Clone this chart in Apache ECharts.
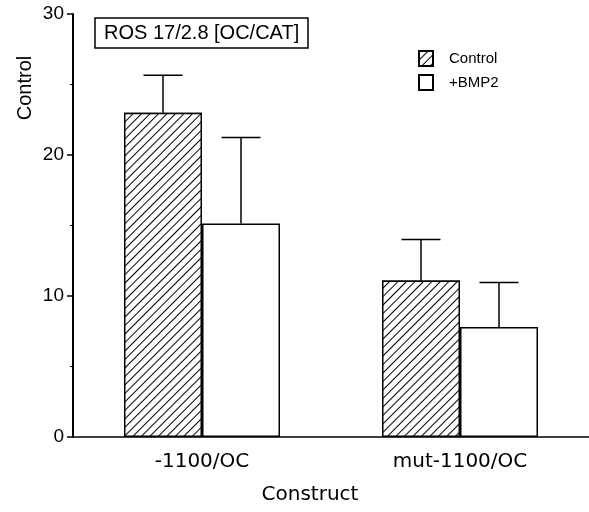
<!DOCTYPE html>
<html>
<head>
<meta charset="utf-8">
<script src="https://cdn.jsdelivr.net/npm/echarts@6/dist/echarts.min.js"></script>
<style>html,body{margin:0;padding:0;background:#fff;}#c{width:589px;height:512px;}</style>
</head>
<body>
<div id="c"></div>
<script>
var categories = ['-1100/OC', 'mut-1100/OC'];
var seriesNames = ['Control', '+BMP2'];
var controlMean = [23.0, 11.1];
var controlErr = [2.65, 2.9];
var bmp2Mean = [15.15, 7.8];
var bmp2Err = [6.1, 3.15];
var yTicks = [0, 10, 20, 30];
var titleText = 'ROS 17/2.8 [OC/CAT]';
var yName = 'Control';
var xName = 'Construct';

var BAR_W = 78;
var CAP_W = 39;
var FONT = '"Liberation Sans", Arial, sans-serif';

function errData(mean, err) {
  return mean.map(function (m, i) { return [i, m, m + err[i]]; });
}
function errSeries(mean, err, offset) {
  return {
    type: 'custom',
    xAxisIndex: 0,
    z: 3,
    data: errData(mean, err),
    renderItem: function (params, api) {
      var base = api.coord([api.value(0), api.value(1)]);
      var top = api.coord([api.value(0), api.value(2)]);
      var x = base[0] + offset;
      var st = { stroke: '#000', lineWidth: 1.5 };
      return {
        type: 'group',
        children: [
          { type: 'line', shape: { x1: x, y1: base[1], x2: x, y2: top[1] }, style: st },
          { type: 'line', shape: { x1: x - CAP_W / 2, y1: top[1], x2: x + CAP_W / 2, y2: top[1] }, style: st }
        ]
      };
    }
  };
}

var chart = echarts.init(document.getElementById('c'), null, { renderer: 'canvas' });
chart.setOption({
  animation: false,
  backgroundColor: '#fff',
  title: {
    text: titleText,
    left: 95, top: 18,
    padding: [5, 9, 5, 9],
    borderColor: '#000', borderWidth: 1.5,
    textStyle: { fontFamily: FONT, fontSize: 20, fontWeight: 'normal', color: '#000' }
  },
  legend: {
    data: seriesNames,
    orient: 'vertical',
    left: 413, top: 45,
    itemWidth: 14, itemHeight: 15, itemGap: 7,
    icon: 'rect',
    textStyle: { fontFamily: FONT, fontSize: 15, color: '#000', padding: [0, 0, 0, 11] }
  },
  graphic: [{
    type: 'text',
    x: 25, y: 88,
    rotation: Math.PI / 2,
    style: { text: yName, font: '20px ' + FONT, fill: '#000', align: 'center', verticalAlign: 'middle' }
  }],
  grid: { left: 73, right: 0, top: 14, bottom: 75, containLabel: false },
  xAxis: [{
    type: 'category',
    data: categories,
    axisLine: { lineStyle: { color: '#000', width: 1.5 } },
    axisTick: { alignWithLabel: true, length: 6, lineStyle: { color: '#000', width: 1.5 } },
    axisLabel: { color: '#000', fontFamily: '"DejaVu Sans", sans-serif', fontSize: 20, margin: 15 },
    name: xName,
    nameLocation: 'middle',
    nameGap: 48,
    nameTextStyle: { color: '#000', fontFamily: '"DejaVu Sans", sans-serif', fontSize: 20, padding: [0, 42, 0, 0] },
    splitLine: { show: false }
  }, {
    type: 'category',
    data: categories,
    position: 'bottom',
    axisLine: { show: false },
    axisTick: { alignWithLabel: false, length: 3, lineStyle: { color: '#000', width: 1.5 } },
    axisLabel: { show: false },
    splitLine: { show: false }
  }],
  yAxis: {
    type: 'value',
    min: yTicks[0], max: yTicks[yTicks.length - 1], interval: 10,
    axisLine: { show: true, lineStyle: { color: '#000', width: 2 } },
    axisTick: { show: true, inside: false, length: 6, lineStyle: { color: '#000', width: 1.5 } },
    minorTick: { show: true, splitNumber: 2, length: 3, lineStyle: { color: '#000', width: 1 } },
    axisLabel: { color: '#000', fontFamily: FONT, fontSize: 19, margin: 9 },
    splitLine: { show: false }
  },
  series: [{
    name: seriesNames[0],
    type: 'bar',
    data: controlMean,
    barWidth: BAR_W,
    barGap: '0%',
    itemStyle: {
      color: '#fff', borderColor: '#000', borderWidth: 1.5,
      decal: { symbol: 'rect', symbolSize: 1, color: '#000', backgroundColor: '#fff', dashArrayX: [1, 0], dashArrayY: [1, 5], rotation: -Math.PI / 4 }
    }
  }, {
    name: seriesNames[1],
    type: 'bar',
    data: bmp2Mean,
    barWidth: BAR_W,
    barGap: '0%',
    itemStyle: { color: '#fff', borderColor: '#000', borderWidth: 1.5 }
  },
  errSeries(controlMean, controlErr, -BAR_W / 2),
  errSeries(bmp2Mean, bmp2Err, BAR_W / 2)
  ]
});
</script>
</body>
</html>
